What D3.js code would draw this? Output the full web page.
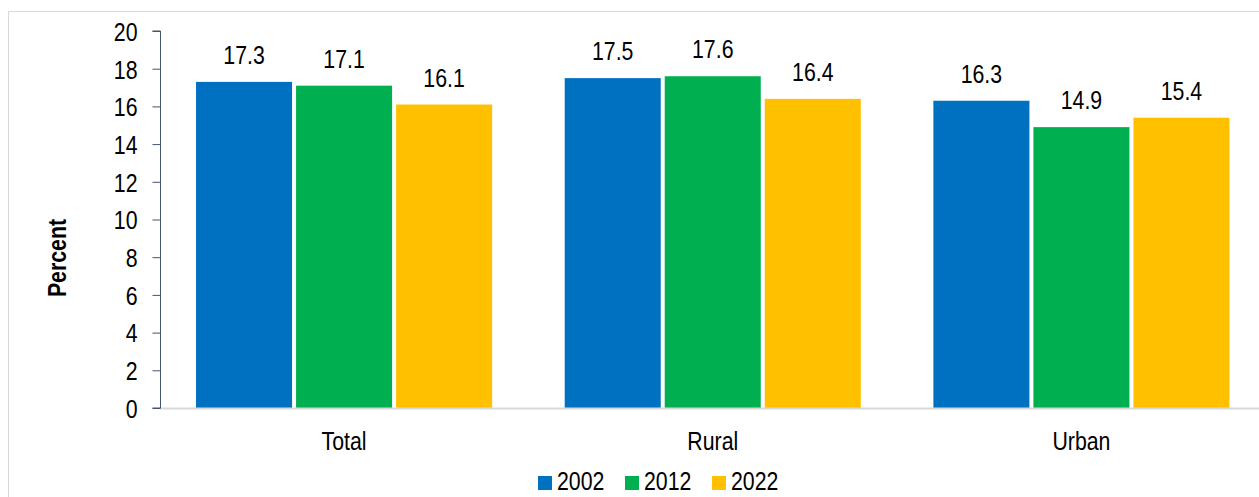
<!DOCTYPE html>
<html><head><meta charset="utf-8">
<script src="https://cdn.jsdelivr.net/npm/d3@7"></script>
<style>
html,body{margin:0;padding:0;background:#fff;overflow:hidden;}
text{font-family:"Liberation Sans Narrow","Arial Narrow","Liberation Sans",Arial,sans-serif;fill:#000;}
</style></head>
<body>
<svg id="chart" width="1259" height="497"></svg>
<script>
const categories = ["Total", "Rural", "Urban"];
const seriesNames = ["2002", "2012", "2022"];
const values2002 = [17.3, 17.5, 16.3];
const values2012 = [17.1, 17.6, 14.9];
const values2022 = [16.1, 16.4, 15.4];
const yTicks = [0, 2, 4, 6, 8, 10, 12, 14, 16, 18, 20];
const colors = ["#0070c0", "#00b050", "#ffc000"];
const yLabel = "Percent";

const seriesValues = [values2002, values2012, values2022];
const svg = d3.select("#chart");
const NARROW = 0.82;

// place a text at (x,y) with horizontal condensing (Arial Narrow look)
function placeNarrow(sel, fx, fy, extra) {
  sel.attr("x", 0).attr("y", 0)
    .attr("transform", function(d, i) {
      return `translate(${fx(d, i)},${fy(d, i)})${extra || ""} scale(${NARROW},1)`;
    });
}

// frame
svg.append("rect").attr("x", 8.5).attr("y", 11.5).attr("width", 1300).attr("height", 600)
  .attr("fill", "none").attr("stroke", "#d9d9d9").attr("stroke-width", 1);

const pLeft = 160, pRight = 1265.5, pTop = 31, pBottom = 408;
const y = d3.scaleLinear().domain([0, 20]).range([pBottom, pTop]);
const x0 = d3.scaleBand().domain(categories).range([pLeft, pRight]).paddingInner(0.186).paddingOuter(0.0923);
const x1 = d3.scaleBand().domain(seriesNames).range([0, x0.bandwidth()]).paddingInner(0.04).paddingOuter(0.02);

const rows = categories.map((c, i) => ({cat: c, vals: seriesNames.map((s, j) => ({s, j, v: seriesValues[j][i]}))}));

const g = svg.selectAll("g.grp").data(rows).join("g").attr("class", "grp")
  .attr("transform", d => `translate(${x0(d.cat)},0)`);
g.selectAll("rect").data(d => d.vals).join("rect")
  .attr("x", d => x1(d.s)).attr("width", x1.bandwidth())
  .attr("y", d => y(d.v)).attr("height", d => y(0) - y(d.v))
  .attr("fill", d => colors[d.j]);
g.selectAll("text.val").data(d => d.vals).join("text").attr("class", "val")
  .attr("text-anchor", "middle").attr("font-size", 26)
  .text(d => d.v.toFixed(1))
  .call(placeNarrow, d => x1(d.s) + x1.bandwidth() / 2, d => y(d.v) - 18);

// x axis line
svg.append("line").attr("x1", pLeft).attr("x2", 1259).attr("y1", pBottom + 0.5).attr("y2", pBottom + 0.5)
  .attr("stroke", "#d9d9d9").attr("stroke-width", 2);

// y axis
const yAxis = d3.axisLeft(y).tickValues(yTicks).tickSize(8).tickPadding(15).tickFormat(d3.format("d"));
const ya = svg.append("g").attr("transform", `translate(${pLeft + 0.5},0)`).call(yAxis);
ya.select(".domain").attr("stroke", "#44546a").attr("d", `M-8,${pTop}H0V${pBottom}H-8`);
ya.selectAll(".tick line").attr("stroke", "#44546a");
ya.selectAll(".tick text").attr("font-size", 26)
  .attr("font-family", '"Liberation Sans Narrow","Arial Narrow","Liberation Sans",Arial,sans-serif')
  .attr("fill", "#000").attr("dy", "0.36em")
  .call(placeNarrow, () => -23, () => 0);

// category labels
svg.selectAll("text.cat").data(categories).join("text").attr("class", "cat")
  .attr("text-anchor", "middle").attr("font-size", 26).text(d => d)
  .call(placeNarrow, d => x0(d) + x0.bandwidth() / 2, () => 450);

// y label
svg.append("text").datum(yLabel)
  .attr("text-anchor", "middle").attr("font-size", 26).attr("font-weight", "bold").text(d => d)
  .call(placeNarrow, () => 66, () => 258, " rotate(-90)");

// legend
const lg = svg.selectAll("g.leg").data(seriesNames).join("g").attr("class", "leg")
  .attr("transform", (d, i) => `translate(${538 + i * 87},476)`);
lg.append("rect").attr("width", 14).attr("height", 14).attr("fill", (d, i) => colors[i]);
lg.append("text").attr("font-size", 26).text(d => d)
  .call(placeNarrow, () => 19, () => 14);
</script>
</body></html>
